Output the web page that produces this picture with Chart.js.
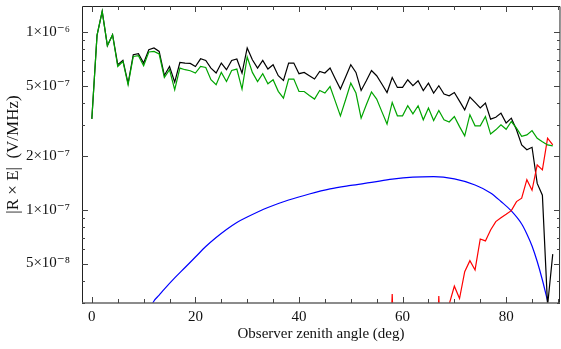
<!DOCTYPE html>
<html>
<head>
<meta charset="utf-8">
<script src="https://cdn.jsdelivr.net/npm/chart.js@4"></script>
<style>
  html, body { margin: 0; padding: 0; background: #fff; }
  #wrap { width: 561px; height: 349px; }
</style>
</head>
<body>
<div id="wrap"><canvas id="chart" width="561" height="349"></canvas></div>
<script>
// values are in units of 1e-7 V/MHz
const UNIT = 1e-7;

const angles = [
  0, 1, 2, 3, 4, 5, 6, 7, 8, 9, 10, 11, 12, 13, 14, 15, 16, 17, 18, 19,
  20, 21, 22, 23, 24, 25, 26, 27, 28, 29, 30, 31, 32, 33, 34, 35, 36, 37, 38, 39,
  40, 41, 42, 43, 44, 45, 46, 47, 48, 49, 50, 51, 52, 53, 54, 55, 56, 57, 58, 59,
  60, 61, 62, 63, 64, 65, 66, 67, 68, 69, 70, 71, 72, 73, 74, 75, 76, 77, 78, 79,
  80, 81, 82, 83, 84, 85, 86, 87, 88, 89
];

const blackValues = [
  3.25, 9.57, 13.06, 8.38, 9.66, 6.55, 6.94, 5.15, 7.45, 7.55,
  6.69, 7.95, 8.13, 7.78, 5.70, 6.40, 5.23, 6.74, 6.69, 6.66,
  6.40, 7.07, 6.92, 6.27, 5.88, 6.69, 6.14, 6.92, 7.05, 5.88,
  8.13, 6.98, 6.27, 6.92, 6.19, 6.55, 5.68, 5.34, 6.69, 6.69,
  5.83, 5.93, 5.68, 5.44, 6.00, 5.88, 6.27, 5.46, 4.78, 5.58,
  6.55, 5.93, 4.69, 5.32, 6.08, 5.68, 5.10, 4.57, 5.55, 4.88,
  4.88, 5.39, 4.99, 5.32, 4.69, 5.16, 4.54, 4.99, 4.48, 4.38,
  4.57, 4.09, 3.65, 4.31, 4.02, 3.74, 3.99, 3.24, 3.32, 3.50,
  3.08, 3.28, 2.82, 2.32, 2.18, 2.25, 1.41, 1.21, 0.29, 0.565
];

const greenValues = [
  3.25, 9.57, 13.06, 8.38, 9.66, 6.40, 6.83, 5.05, 7.29, 7.36,
  6.46, 7.72, 7.78, 7.52, 5.55, 6.14, 4.74, 6.27, 6.14, 6.06,
  5.88, 6.40, 6.32, 5.39, 5.05, 5.93, 5.27, 6.08, 6.19, 4.78,
  7.24, 5.93, 5.27, 5.83, 5.12, 5.39, 4.64, 4.25, 5.44, 5.44,
  4.63, 4.63, 4.40, 4.20, 4.69, 4.54, 4.94, 4.09, 3.38, 4.16,
  5.16, 4.54, 3.28, 3.90, 4.60, 4.20, 3.57, 3.04, 4.02, 3.38,
  3.38, 3.85, 3.47, 3.85, 3.21, 3.74, 3.18, 3.62, 3.21, 3.12,
  3.35, 2.94, 2.61, 3.43, 2.97, 2.97, 3.35, 2.67, 2.82, 3.01,
  2.84, 3.14, 2.88, 2.59, 2.64, 2.79, 2.53, 2.42, 2.32, 2.29
];

const redAngles = [
  55, 56, 57, 58, 59, 60, 61, 62, 63, 64, 65, 66, 67, 68, 69, 70, 71, 72,
  73, 74, 75, 76, 77, 78, 79, 80, 81, 82, 83, 84, 85, 86, 87, 88, 89
];
const redValues = [
  0.05, 0.05, 0.05, 0.337, 0.05, 0.05, 0.05, 0.05, 0.05, 0.05, 0.05, 0.05,
  0.328, 0.05, 0.295, 0.373, 0.318, 0.45, 0.519, 0.46, 0.687, 0.67, 0.771,
  0.86, 0.905, 0.946, 0.991, 1.114, 1.164, 1.48, 1.29, 1.79, 1.68, 2.53, 2.32
];

const blueAngles = [
  11, 12, 13, 14, 16, 18, 20, 22, 24, 26, 28, 30, 34, 38, 42, 46, 50, 54,
  58, 62, 66, 70, 74, 77, 79, 81, 83, 84, 85, 86, 87, 88
];
const blueValues = [
  0.27, 0.308, 0.332, 0.359, 0.415, 0.475, 0.544, 0.623, 0.70, 0.777, 0.851,
  0.913, 1.033, 1.138, 1.23, 1.313, 1.373, 1.428, 1.49, 1.53, 1.54, 1.494,
  1.382, 1.247, 1.116, 0.987, 0.834, 0.733, 0.627, 0.513, 0.404, 0.308
];

const xLabelTicks = [0, 20, 40, 60, 80];
const xMinorTicks = [5, 10, 15, 25, 30, 35, 45, 50, 55, 65, 70, 75, 85, 90];
const yLabelTicks = [5e-8, 1e-7, 2e-7, 5e-7, 1e-6];
const yTickText = ['5×10⁻⁸', '1×10⁻⁷', '2×10⁻⁷', '5×10⁻⁷', '1×10⁻⁶'];
const yMinorTicks = [3e-8, 4e-8, 6e-8, 7e-8, 8e-8, 9e-8, 3e-7, 4e-7, 6e-7, 7e-7, 8e-7, 9e-7];

function toPoints(xs, vals) {
  return xs.map((x, i) => ({ x: x, y: vals[i] * UNIT }));
}

// Mathematica-like frame with inward ticks
const frameTicks = {
  id: 'frameTicks',
  afterDatasetsDraw(chart) {
    const { ctx, chartArea: a, scales: { x, y } } = chart;
    ctx.save();
    ctx.lineWidth = 1;
    ctx.strokeStyle = '#222';
    ctx.beginPath();
    ctx.moveTo(a.left + 0.5, a.bottom);
    ctx.lineTo(a.left + 0.5, a.top + 0.5);
    ctx.lineTo(a.right, a.top + 0.5);
    ctx.lineTo(a.right - 0.5, a.bottom);
    ctx.stroke();

    ctx.strokeStyle = '#666';
    ctx.lineWidth = 1.5;
    ctx.beginPath();
    ctx.moveTo(a.left, a.bottom);
    ctx.lineTo(a.right, a.bottom);
    ctx.stroke();

    ctx.lineWidth = 1;
    ctx.strokeStyle = '#444';
    const xt = (v, len) => {
      const px = Math.round(x.getPixelForValue(v)) + 0.5;
      ctx.moveTo(px, a.bottom); ctx.lineTo(px, a.bottom - len);
      ctx.moveTo(px, a.top); ctx.lineTo(px, a.top + len);
    };
    const yt = (v, len) => {
      const py = Math.round(y.getPixelForValue(v)) + 0.5;
      ctx.moveTo(a.left, py); ctx.lineTo(a.left + len, py);
      ctx.moveTo(a.right, py); ctx.lineTo(a.right - len, py);
    };
    ctx.beginPath();
    xLabelTicks.forEach(v => xt(v, 6));
    xMinorTicks.forEach(v => xt(v, 4));
    yLabelTicks.forEach(v => yt(v, 6));
    yMinorTicks.forEach(v => yt(v, 3));
    ctx.stroke();
    ctx.restore();
  }
};

const serif = "'Liberation Serif', 'DejaVu Serif', serif";

new Chart(document.getElementById('chart'), {
  type: 'line',
  data: {
    datasets: [
      {
        label: 'green',
        data: toPoints(angles, greenValues),
        borderColor: '#00a400',
        borderWidth: 1.2,
        pointRadius: 0,
        tension: 0
      },
      {
        label: 'red',
        data: toPoints(redAngles, redValues),
        borderColor: '#ff0000',
        borderWidth: 1.2,
        pointRadius: 0,
        tension: 0
      },
      {
        label: 'black',
        data: toPoints(angles, blackValues),
        borderColor: '#000000',
        borderWidth: 1.2,
        pointRadius: 0,
        tension: 0
      },
      {
        label: 'blue',
        data: toPoints(blueAngles, blueValues),
        borderColor: '#0000ff',
        borderWidth: 1.2,
        pointRadius: 0,
        cubicInterpolationMode: 'monotone'
      }
    ]
  },
  options: {
    responsive: false,
    animation: false,
    devicePixelRatio: 1,
    layout: { padding: { left: 0, right: 1, top: 6, bottom: 0 } },
    plugins: {
      legend: { display: false },
      tooltip: { enabled: false }
    },
    scales: {
      x: {
        type: 'linear',
        min: -1.9,
        max: 90.4,
        border: { display: false },
        grid: { display: false },
        afterBuildTicks: s => { s.ticks = xLabelTicks.map(v => ({ value: v })); },
        afterFit: s => {
          s.height = 46;
          s.paddingLeft = 0;
          s.paddingRight = 0;
        },
        ticks: {
          color: '#111',
          padding: -3,
          font: { family: serif, size: 15 }
        },
        title: {
          display: true,
          text: 'Observer zenith angle (deg)',
          color: '#111',
          font: { family: serif, size: 15 },
          padding: { top: 0, bottom: 6 }
        }
      },
      y: {
        type: 'logarithmic',
        min: 3e-8,
        max: 1.4e-6,
        border: { display: false },
        grid: { display: false },
        afterBuildTicks: s => { s.ticks = yLabelTicks.map(v => ({ value: v })); },
        afterFit: s => {
          s.width = 82;
          s.paddingTop = 0;
          s.paddingBottom = 0;
        },
        ticks: {
          color: '#111',
          padding: 4,
          font: { family: serif, size: 15 },
          callback: v => {
            const i = yLabelTicks.indexOf(v);
            return i >= 0 ? yTickText[i] : '';
          }
        },
        title: {
          display: true,
          text: '|R × E|  (V/MHz)',
          color: '#111',
          font: { family: serif, size: 17 },
          padding: { top: 3, bottom: 0 }
        }
      }
    }
  },
  plugins: [frameTicks]
});
</script>
</body>
</html>
